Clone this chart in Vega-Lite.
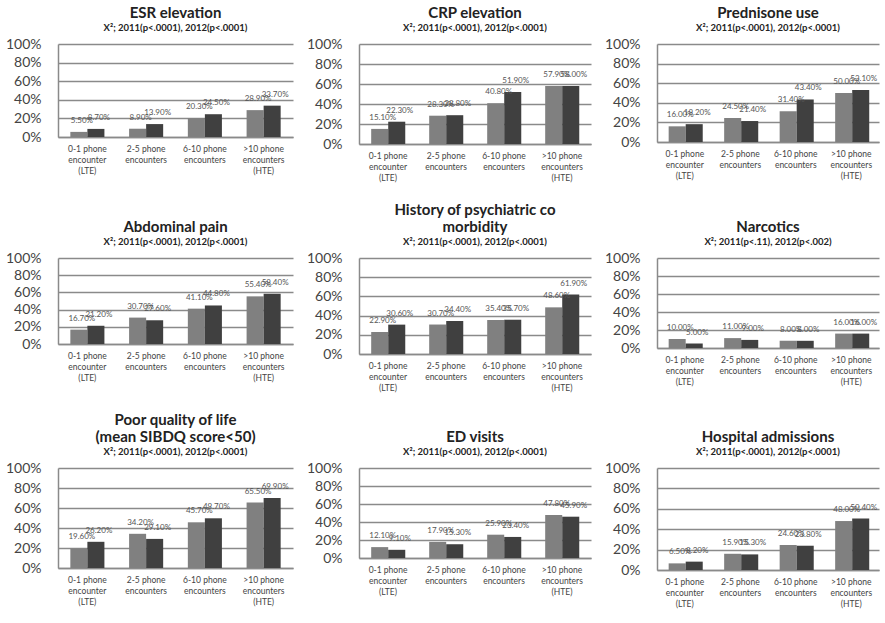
{
  "$schema": "https://vega.github.io/schema/vega-lite/v6.json",
  "background": "white",
  "padding": 5,
  "datasets": {
    "rates": [
      {"panel": "ESR", "group": "0-1 phone encounter (LTE)", "year": "2011", "value": 0.055},
      {"panel": "ESR", "group": "0-1 phone encounter (LTE)", "year": "2012", "value": 0.087},
      {"panel": "ESR", "group": "2-5 phone encounters", "year": "2011", "value": 0.089},
      {"panel": "ESR", "group": "2-5 phone encounters", "year": "2012", "value": 0.139},
      {"panel": "ESR", "group": "6-10 phone encounters", "year": "2011", "value": 0.203},
      {"panel": "ESR", "group": "6-10 phone encounters", "year": "2012", "value": 0.245},
      {"panel": "ESR", "group": ">10 phone encounters (HTE)", "year": "2011", "value": 0.289},
      {"panel": "ESR", "group": ">10 phone encounters (HTE)", "year": "2012", "value": 0.337},

      {"panel": "CRP", "group": "0-1 phone encounter (LTE)", "year": "2011", "value": 0.151},
      {"panel": "CRP", "group": "0-1 phone encounter (LTE)", "year": "2012", "value": 0.223},
      {"panel": "CRP", "group": "2-5 phone encounters", "year": "2011", "value": 0.283},
      {"panel": "CRP", "group": "2-5 phone encounters", "year": "2012", "value": 0.288},
      {"panel": "CRP", "group": "6-10 phone encounters", "year": "2011", "value": 0.408},
      {"panel": "CRP", "group": "6-10 phone encounters", "year": "2012", "value": 0.519},
      {"panel": "CRP", "group": ">10 phone encounters (HTE)", "year": "2011", "value": 0.579},
      {"panel": "CRP", "group": ">10 phone encounters (HTE)", "year": "2012", "value": 0.580},

      {"panel": "Prednisone", "group": "0-1 phone encounter (LTE)", "year": "2011", "value": 0.160},
      {"panel": "Prednisone", "group": "0-1 phone encounter (LTE)", "year": "2012", "value": 0.182},
      {"panel": "Prednisone", "group": "2-5 phone encounters", "year": "2011", "value": 0.245},
      {"panel": "Prednisone", "group": "2-5 phone encounters", "year": "2012", "value": 0.214},
      {"panel": "Prednisone", "group": "6-10 phone encounters", "year": "2011", "value": 0.314},
      {"panel": "Prednisone", "group": "6-10 phone encounters", "year": "2012", "value": 0.434},
      {"panel": "Prednisone", "group": ">10 phone encounters (HTE)", "year": "2011", "value": 0.500},
      {"panel": "Prednisone", "group": ">10 phone encounters (HTE)", "year": "2012", "value": 0.531},

      {"panel": "Abdominal", "group": "0-1 phone encounter (LTE)", "year": "2011", "value": 0.167},
      {"panel": "Abdominal", "group": "0-1 phone encounter (LTE)", "year": "2012", "value": 0.212},
      {"panel": "Abdominal", "group": "2-5 phone encounters", "year": "2011", "value": 0.307},
      {"panel": "Abdominal", "group": "2-5 phone encounters", "year": "2012", "value": 0.276},
      {"panel": "Abdominal", "group": "6-10 phone encounters", "year": "2011", "value": 0.411},
      {"panel": "Abdominal", "group": "6-10 phone encounters", "year": "2012", "value": 0.448},
      {"panel": "Abdominal", "group": ">10 phone encounters (HTE)", "year": "2011", "value": 0.554},
      {"panel": "Abdominal", "group": ">10 phone encounters (HTE)", "year": "2012", "value": 0.584},

      {"panel": "Psychiatric", "group": "0-1 phone encounter (LTE)", "year": "2011", "value": 0.229},
      {"panel": "Psychiatric", "group": "0-1 phone encounter (LTE)", "year": "2012", "value": 0.306},
      {"panel": "Psychiatric", "group": "2-5 phone encounters", "year": "2011", "value": 0.307},
      {"panel": "Psychiatric", "group": "2-5 phone encounters", "year": "2012", "value": 0.344},
      {"panel": "Psychiatric", "group": "6-10 phone encounters", "year": "2011", "value": 0.354},
      {"panel": "Psychiatric", "group": "6-10 phone encounters", "year": "2012", "value": 0.357},
      {"panel": "Psychiatric", "group": ">10 phone encounters (HTE)", "year": "2011", "value": 0.486},
      {"panel": "Psychiatric", "group": ">10 phone encounters (HTE)", "year": "2012", "value": 0.619},

      {"panel": "Narcotics", "group": "0-1 phone encounter (LTE)", "year": "2011", "value": 0.10},
      {"panel": "Narcotics", "group": "0-1 phone encounter (LTE)", "year": "2012", "value": 0.05},
      {"panel": "Narcotics", "group": "2-5 phone encounters", "year": "2011", "value": 0.11},
      {"panel": "Narcotics", "group": "2-5 phone encounters", "year": "2012", "value": 0.09},
      {"panel": "Narcotics", "group": "6-10 phone encounters", "year": "2011", "value": 0.08},
      {"panel": "Narcotics", "group": "6-10 phone encounters", "year": "2012", "value": 0.08},
      {"panel": "Narcotics", "group": ">10 phone encounters (HTE)", "year": "2011", "value": 0.16},
      {"panel": "Narcotics", "group": ">10 phone encounters (HTE)", "year": "2012", "value": 0.16},

      {"panel": "QoL", "group": "0-1 phone encounter (LTE)", "year": "2011", "value": 0.196},
      {"panel": "QoL", "group": "0-1 phone encounter (LTE)", "year": "2012", "value": 0.262},
      {"panel": "QoL", "group": "2-5 phone encounters", "year": "2011", "value": 0.342},
      {"panel": "QoL", "group": "2-5 phone encounters", "year": "2012", "value": 0.291},
      {"panel": "QoL", "group": "6-10 phone encounters", "year": "2011", "value": 0.457},
      {"panel": "QoL", "group": "6-10 phone encounters", "year": "2012", "value": 0.497},
      {"panel": "QoL", "group": ">10 phone encounters (HTE)", "year": "2011", "value": 0.655},
      {"panel": "QoL", "group": ">10 phone encounters (HTE)", "year": "2012", "value": 0.699},

      {"panel": "ED", "group": "0-1 phone encounter (LTE)", "year": "2011", "value": 0.121},
      {"panel": "ED", "group": "0-1 phone encounter (LTE)", "year": "2012", "value": 0.091},
      {"panel": "ED", "group": "2-5 phone encounters", "year": "2011", "value": 0.179},
      {"panel": "ED", "group": "2-5 phone encounters", "year": "2012", "value": 0.153},
      {"panel": "ED", "group": "6-10 phone encounters", "year": "2011", "value": 0.259},
      {"panel": "ED", "group": "6-10 phone encounters", "year": "2012", "value": 0.234},
      {"panel": "ED", "group": ">10 phone encounters (HTE)", "year": "2011", "value": 0.478},
      {"panel": "ED", "group": ">10 phone encounters (HTE)", "year": "2012", "value": 0.459},

      {"panel": "Hospital", "group": "0-1 phone encounter (LTE)", "year": "2011", "value": 0.065},
      {"panel": "Hospital", "group": "0-1 phone encounter (LTE)", "year": "2012", "value": 0.082},
      {"panel": "Hospital", "group": "2-5 phone encounters", "year": "2011", "value": 0.159},
      {"panel": "Hospital", "group": "2-5 phone encounters", "year": "2012", "value": 0.153},
      {"panel": "Hospital", "group": "6-10 phone encounters", "year": "2011", "value": 0.246},
      {"panel": "Hospital", "group": "6-10 phone encounters", "year": "2012", "value": 0.238},
      {"panel": "Hospital", "group": ">10 phone encounters (HTE)", "year": "2011", "value": 0.480},
      {"panel": "Hospital", "group": ">10 phone encounters (HTE)", "year": "2012", "value": 0.504}
    ]
  },
  "data": {"name": "rates"},
  "spacing": 20,
  "vconcat": [
    {
      "spacing": 13,
      "hconcat": [
        {
          "title": {"text": "ESR elevation", "subtitle": "X²; 2011(p<.0001), 2012(p<.0001)"},
          "width": 235, "height": 93,
          "transform": [{"filter": "datum.panel === 'ESR'"}],
          "encoding": {
            "x": {"field": "group", "type": "nominal", "sort": ["0-1 phone encounter (LTE)", "2-5 phone encounters", "6-10 phone encounters", ">10 phone encounters (HTE)"], "scale": {"paddingInner": 0.42, "paddingOuter": 0.21}, "axis": {"labelExpr": "split(replace(replace(datum.value, ' enc', '|enc'), ' (', '|('), '|')"}},
            "xOffset": {"field": "year", "type": "nominal"},
            "y": {"field": "value", "type": "quantitative", "scale": {"domain": [0, 1]}, "axis": {"values": [0, 0.2, 0.4, 0.6, 0.8, 1]}}
          },
          "layer": [
            {"mark": "bar", "encoding": {"color": {"field": "year", "type": "nominal", "scale": {"range": ["#808080", "#404040"]}, "legend": null}}},
            {"mark": "text", "encoding": {"text": {"field": "value", "type": "quantitative", "format": ".2%"}}}
          ]
        },
        {
          "title": {"text": "CRP elevation", "subtitle": "X²; 2011(p<.0001), 2012(p<.0001)"},
          "width": 232, "height": 100,
          "transform": [{"filter": "datum.panel === 'CRP'"}],
          "encoding": {
            "x": {"field": "group", "type": "nominal", "sort": ["0-1 phone encounter (LTE)", "2-5 phone encounters", "6-10 phone encounters", ">10 phone encounters (HTE)"], "scale": {"paddingInner": 0.42, "paddingOuter": 0.21}, "axis": {"labelExpr": "split(replace(replace(datum.value, ' enc', '|enc'), ' (', '|('), '|')"}},
            "xOffset": {"field": "year", "type": "nominal"},
            "y": {"field": "value", "type": "quantitative", "scale": {"domain": [0, 1]}, "axis": {"values": [0, 0.2, 0.4, 0.6, 0.8, 1]}}
          },
          "layer": [
            {"mark": "bar", "encoding": {"color": {"field": "year", "type": "nominal", "scale": {"range": ["#808080", "#404040"]}, "legend": null}}},
            {"mark": "text", "encoding": {"text": {"field": "value", "type": "quantitative", "format": ".2%"}}}
          ]
        },
        {
          "title": {"text": "Prednisone use", "subtitle": "X²; 2011(p<.0001), 2012(p<.0001)"},
          "width": 222, "height": 98,
          "transform": [{"filter": "datum.panel === 'Prednisone'"}],
          "encoding": {
            "x": {"field": "group", "type": "nominal", "sort": ["0-1 phone encounter (LTE)", "2-5 phone encounters", "6-10 phone encounters", ">10 phone encounters (HTE)"], "scale": {"paddingInner": 0.42, "paddingOuter": 0.21}, "axis": {"labelExpr": "split(replace(replace(datum.value, ' enc', '|enc'), ' (', '|('), '|')"}},
            "xOffset": {"field": "year", "type": "nominal"},
            "y": {"field": "value", "type": "quantitative", "scale": {"domain": [0, 1]}, "axis": {"values": [0, 0.2, 0.4, 0.6, 0.8, 1]}}
          },
          "layer": [
            {"mark": "bar", "encoding": {"color": {"field": "year", "type": "nominal", "scale": {"range": ["#808080", "#404040"]}, "legend": null}}},
            {"mark": "text", "encoding": {"text": {"field": "value", "type": "quantitative", "format": ".2%"}}}
          ]
        }
      ]
    },
    {
      "spacing": 13,
      "hconcat": [
        {
          "title": {"text": "Abdominal pain", "subtitle": "X²; 2011(p<.0001), 2012(p<.0001)"},
          "width": 235, "height": 86,
          "transform": [{"filter": "datum.panel === 'Abdominal'"}],
          "encoding": {
            "x": {"field": "group", "type": "nominal", "sort": ["0-1 phone encounter (LTE)", "2-5 phone encounters", "6-10 phone encounters", ">10 phone encounters (HTE)"], "scale": {"paddingInner": 0.42, "paddingOuter": 0.21}, "axis": {"labelExpr": "split(replace(replace(datum.value, ' enc', '|enc'), ' (', '|('), '|')"}},
            "xOffset": {"field": "year", "type": "nominal"},
            "y": {"field": "value", "type": "quantitative", "scale": {"domain": [0, 1]}, "axis": {"values": [0, 0.2, 0.4, 0.6, 0.8, 1]}}
          },
          "layer": [
            {"mark": "bar", "encoding": {"color": {"field": "year", "type": "nominal", "scale": {"range": ["#808080", "#404040"]}, "legend": null}}},
            {"mark": "text", "encoding": {"text": {"field": "value", "type": "quantitative", "format": ".2%"}}}
          ]
        },
        {
          "title": {"text": ["History of psychiatric co", "morbidity"], "subtitle": "X²; 2011(p<.0001), 2012(p<.0001)"},
          "width": 232, "height": 96,
          "transform": [{"filter": "datum.panel === 'Psychiatric'"}],
          "encoding": {
            "x": {"field": "group", "type": "nominal", "sort": ["0-1 phone encounter (LTE)", "2-5 phone encounters", "6-10 phone encounters", ">10 phone encounters (HTE)"], "scale": {"paddingInner": 0.42, "paddingOuter": 0.21}, "axis": {"labelExpr": "split(replace(replace(datum.value, ' enc', '|enc'), ' (', '|('), '|')"}},
            "xOffset": {"field": "year", "type": "nominal"},
            "y": {"field": "value", "type": "quantitative", "scale": {"domain": [0, 1]}, "axis": {"values": [0, 0.2, 0.4, 0.6, 0.8, 1]}}
          },
          "layer": [
            {"mark": "bar", "encoding": {"color": {"field": "year", "type": "nominal", "scale": {"range": ["#808080", "#404040"]}, "legend": null}}},
            {"mark": "text", "encoding": {"text": {"field": "value", "type": "quantitative", "format": ".2%"}}}
          ]
        },
        {
          "title": {"text": "Narcotics", "subtitle": "X²; 2011(p<.11), 2012(p<.002)"},
          "width": 222, "height": 90,
          "transform": [{"filter": "datum.panel === 'Narcotics'"}],
          "encoding": {
            "x": {"field": "group", "type": "nominal", "sort": ["0-1 phone encounter (LTE)", "2-5 phone encounters", "6-10 phone encounters", ">10 phone encounters (HTE)"], "scale": {"paddingInner": 0.42, "paddingOuter": 0.21}, "axis": {"labelExpr": "split(replace(replace(datum.value, ' enc', '|enc'), ' (', '|('), '|')"}},
            "xOffset": {"field": "year", "type": "nominal"},
            "y": {"field": "value", "type": "quantitative", "scale": {"domain": [0, 1]}, "axis": {"values": [0, 0.2, 0.4, 0.6, 0.8, 1]}}
          },
          "layer": [
            {"mark": "bar", "encoding": {"color": {"field": "year", "type": "nominal", "scale": {"range": ["#808080", "#404040"]}, "legend": null}}},
            {"mark": "text", "encoding": {"text": {"field": "value", "type": "quantitative", "format": ".2%"}}}
          ]
        }
      ]
    },
    {
      "spacing": 13,
      "hconcat": [
        {
          "title": {"text": ["Poor quality of life", "(mean SIBDQ score<50)"], "subtitle": "X²; 2011(p<.0001), 2012(p<.0001)"},
          "width": 235, "height": 100,
          "transform": [{"filter": "datum.panel === 'QoL'"}],
          "encoding": {
            "x": {"field": "group", "type": "nominal", "sort": ["0-1 phone encounter (LTE)", "2-5 phone encounters", "6-10 phone encounters", ">10 phone encounters (HTE)"], "scale": {"paddingInner": 0.42, "paddingOuter": 0.21}, "axis": {"labelExpr": "split(replace(replace(datum.value, ' enc', '|enc'), ' (', '|('), '|')"}},
            "xOffset": {"field": "year", "type": "nominal"},
            "y": {"field": "value", "type": "quantitative", "scale": {"domain": [0, 1]}, "axis": {"values": [0, 0.2, 0.4, 0.6, 0.8, 1]}}
          },
          "layer": [
            {"mark": "bar", "encoding": {"color": {"field": "year", "type": "nominal", "scale": {"range": ["#808080", "#404040"]}, "legend": null}}},
            {"mark": "text", "encoding": {"text": {"field": "value", "type": "quantitative", "format": ".2%"}}}
          ]
        },
        {
          "title": {"text": "ED visits", "subtitle": "X²; 2011(p<.0001), 2012(p<.0001)"},
          "width": 232, "height": 90,
          "transform": [{"filter": "datum.panel === 'ED'"}],
          "encoding": {
            "x": {"field": "group", "type": "nominal", "sort": ["0-1 phone encounter (LTE)", "2-5 phone encounters", "6-10 phone encounters", ">10 phone encounters (HTE)"], "scale": {"paddingInner": 0.42, "paddingOuter": 0.21}, "axis": {"labelExpr": "split(replace(replace(datum.value, ' enc', '|enc'), ' (', '|('), '|')"}},
            "xOffset": {"field": "year", "type": "nominal"},
            "y": {"field": "value", "type": "quantitative", "scale": {"domain": [0, 1]}, "axis": {"values": [0, 0.2, 0.4, 0.6, 0.8, 1]}}
          },
          "layer": [
            {"mark": "bar", "encoding": {"color": {"field": "year", "type": "nominal", "scale": {"range": ["#808080", "#404040"]}, "legend": null}}},
            {"mark": "text", "encoding": {"text": {"field": "value", "type": "quantitative", "format": ".2%"}}}
          ]
        },
        {
          "title": {"text": "Hospital admissions", "subtitle": "X²; 2011(p<.0001), 2012(p<.0001)"},
          "width": 222, "height": 102,
          "transform": [{"filter": "datum.panel === 'Hospital'"}],
          "encoding": {
            "x": {"field": "group", "type": "nominal", "sort": ["0-1 phone encounter (LTE)", "2-5 phone encounters", "6-10 phone encounters", ">10 phone encounters (HTE)"], "scale": {"paddingInner": 0.42, "paddingOuter": 0.21}, "axis": {"labelExpr": "split(replace(replace(datum.value, ' enc', '|enc'), ' (', '|('), '|')"}},
            "xOffset": {"field": "year", "type": "nominal"},
            "y": {"field": "value", "type": "quantitative", "scale": {"domain": [0, 1]}, "axis": {"values": [0, 0.2, 0.4, 0.6, 0.8, 1]}}
          },
          "layer": [
            {"mark": "bar", "encoding": {"color": {"field": "year", "type": "nominal", "scale": {"range": ["#808080", "#404040"]}, "legend": null}}},
            {"mark": "text", "encoding": {"text": {"field": "value", "type": "quantitative", "format": ".2%"}}}
          ]
        }
      ]
    }
  ],
  "resolve": {"scale": {"x": "independent", "y": "independent", "xOffset": "independent"}},
  "config": {
    "font": "Lato",
    "view": {"stroke": null},
    "bar": {"stroke": null},
    "text": {"fontSize": 8, "color": "#555555", "baseline": "bottom", "dy": -7, "dx": 3},
    "title": {
      "font": "Lato", "fontSize": 15, "fontWeight": "bold", "color": "#222222",
      "subtitleFont": "Lato", "subtitleFontSize": 9.5, "subtitleFontWeight": "bold", "subtitleColor": "#222222",
      "subtitlePadding": 2, "anchor": "middle", "frame": "group", "offset": 5, "lineHeight": 17
    },
    "axisY": {
      "title": null, "format": "%",
      "grid": true, "gridColor": "#8a8a8a", "gridWidth": 1.5,
      "domain": true, "domainColor": "#8a8a8a", "domainWidth": 1.5,
      "ticks": false, "labelFont": "Lato", "labelFontSize": 14, "labelColor": "#444444", "labelPadding": 17
    },
    "axisX": {
      "title": null, "ticks": false, "labelAngle": 0,
      "domainColor": "#8a8a8a", "domainWidth": 1.5,
      "labelFont": "Lato", "labelFontSize": 8.5, "labelColor": "#444444", "labelLineHeight": 11, "labelPadding": 7
    }
  }
}
